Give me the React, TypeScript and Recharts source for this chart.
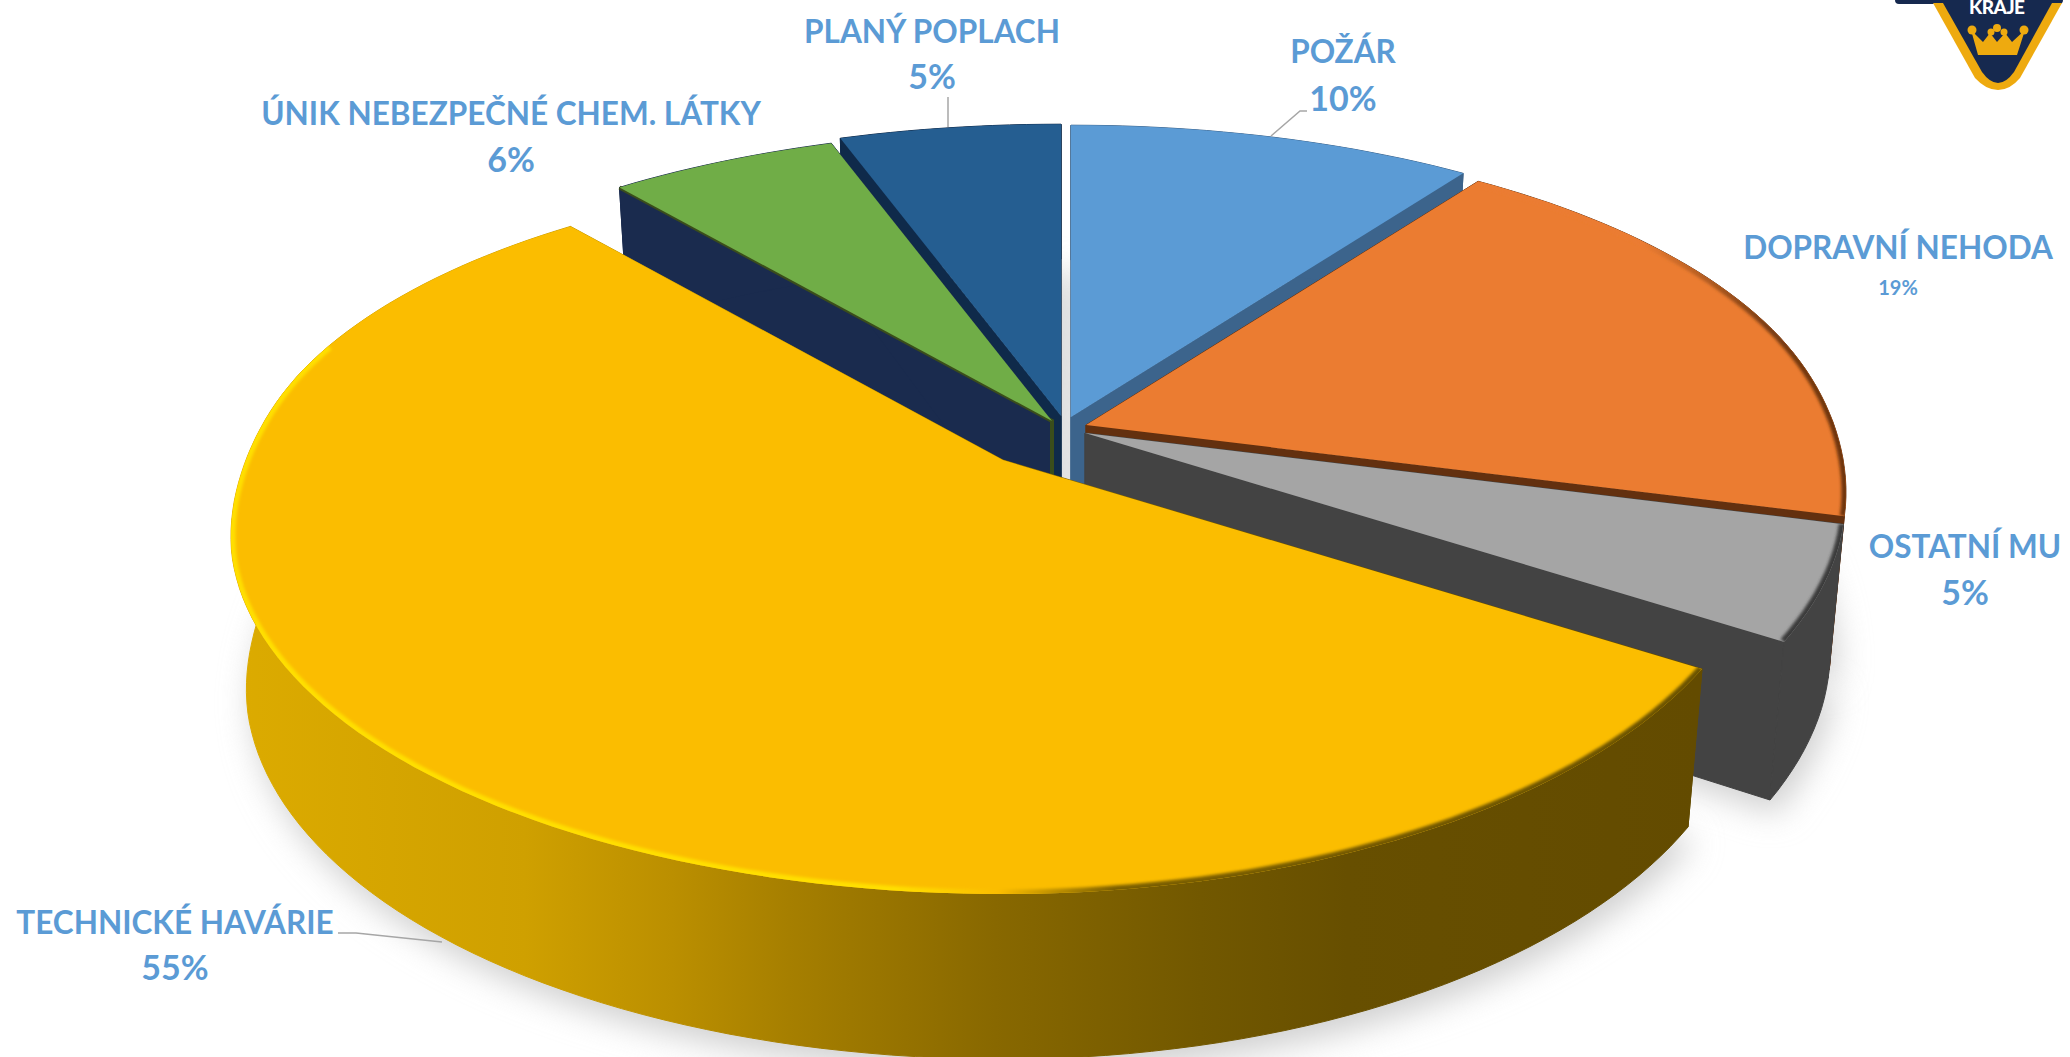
import React from "react";
import { PieChart, Pie } from "recharts";

const categories = [
  "ÚNIK NEBEZPEČNÉ CHEM. LÁTKY",
  "PLANÝ POPLACH",
  "POŽÁR",
  "DOPRAVNÍ NEHODA",
  "OSTATNÍ MU",
  "TECHNICKÉ HAVÁRIE",
];
const shares = [5.6, 5.4, 10, 19, 5, 55];

const data = categories.map((name, i) => ({ name, value: shares[i] }));

const W = 2070;
const H = 1057;

// explode offset of each slice (its tip on screen)
const tips: Record<string, [number, number]> = {
  "ÚNIK NEBEZPEČNÉ CHEM. LÁTKY": [1052, 421],
  "PLANÝ POPLACH": [1061, 416],
  "POŽÁR": [1071, 417],
  "DOPRAVNÍ NEHODA": [1086, 425],
  "OSTATNÍ MU": [1085, 433],
  "TECHNICKÉ HAVÁRIE": [1003, 460],
};

const topColors: Record<string, string> = {
  "ÚNIK NEBEZPEČNÉ CHEM. LÁTKY": "#70ad47",
  "PLANÝ POPLACH": "#255e91",
  "POŽÁR": "#5b9bd5",
  "DOPRAVNÍ NEHODA": "#eb7c31",
  "OSTATNÍ MU": "#a5a5a5",
  "TECHNICKÉ HAVÁRIE": "#fbbd00",
};

const sideColors: Record<string, string> = {
  "ÚNIK NEBEZPEČNÉ CHEM. LÁTKY": "#1a2b4e",
  "PLANÝ POPLACH": "#0f2a4a",
  "POŽÁR": "#3c648c",
  "DOPRAVNÍ NEHODA": "#63300f",
  "OSTATNÍ MU": "#434343",
  "TECHNICKÉ HAVÁRIE": "url(#techWall)",
};

const rimColors: Record<string, string> = {
  "DOPRAVNÍ NEHODA": "url(#orangeRim)",
  "OSTATNÍ MU": "#3a3a3a",
  "TECHNICKÉ HAVÁRIE": "url(#techRim)",
};

const labels: Record<string, { x: number; y: number; y2: number; small?: boolean; line?: string }> = {
  "ÚNIK NEBEZPEČNÉ CHEM. LÁTKY": { x: 511, y: 114, y2: 160 },
  "PLANÝ POPLACH": { x: 932, y: 32, y2: 77, line: "948,127 948,97" },
  "POŽÁR": { x: 1343, y: 52, y2: 99, line: "1271,136 1300,111 1307,111" },
  "DOPRAVNÍ NEHODA": { x: 1898, y: 248, y2: 288, small: true },
  "OSTATNÍ MU": { x: 1965, y: 547, y2: 593 },
  "TECHNICKÉ HAVÁRIE": { x: 175, y: 923, y2: 968, line: "338,933 356,933 442,942" },
};

// tilted disc, front edge closer to the viewer
function top(deg: number, tip: [number, number]) {
  const a = (deg * Math.PI) / 180;
  const u = Math.cos(a);
  const v = Math.sin(a);
  const rx = u >= 0 ? 748 : 757;
  const t = Math.min(1, Math.max(0, (0.3 - v) / 0.6));
  const blend = t * t * (3 - 2 * t);
  const kx = 0.15 + (u >= 0 ? 0.03 : 0.05) * blend;
  return [tip[0] + (rx * u) / (1 + kx * v), tip[1] - (349 * v) / (1 + 0.196 * v)];
}

function bottom(deg: number, tip: [number, number]) {
  const v = Math.sin((deg * Math.PI) / 180);
  const p = top(deg, tip);
  return [tip[0] + (p[0] - tip[0]) * 0.98, p[1] + 150 - 15 * v];
}

function arc(start: number, end: number, fn: (d: number) => number[]) {
  const n = Math.max(2, Math.ceil(Math.abs(end - start) / 1.5));
  const pts: number[][] = [];
  for (let i = 0; i <= n; i++) pts.push(fn(start + ((end - start) * i) / n));
  return pts;
}

const toD = (pts: number[][], close = true) =>
  "M" + pts.map((p) => `${p[0].toFixed(1)},${p[1].toFixed(1)}`).join("L") + (close ? "Z" : "");

function ShadowShape(props: any) {
  const { name, startAngle, endAngle } = props;
  const tip = tips[name];
  const pts = arc(startAngle, endAngle, (d) => {
    const p = bottom(d, tip);
    return [p[0] + 6, p[1] + 14];
  });
  return <path d={toD([[tip[0], tip[1] + 150], ...pts])} fill="#d0d0d0" filter="url(#softShadow)" />;
}

function SideShape(props: any) {
  const { name, startAngle, endAngle } = props;
  const tip = tips[name];
  const fill = sideColors[name];
  const tipLow = [tip[0], tip[1] + 150];
  const wall = [...arc(startAngle, endAngle, (d) => top(d, tip)), ...arc(endAngle, startAngle, (d) => bottom(d, tip))];
  const cut = (d: number) => [tip, top(d, tip), bottom(d, tip), tipLow] as number[][];
  const isGreen = name === categories[0];
  return (
    <g>
      <path d={toD(cut(startAngle))} fill={fill} stroke={fill} strokeWidth={1} />
      <path d={toD(cut(endAngle))} fill={fill} stroke={fill} strokeWidth={1} />
      <path d={toD(wall)} fill={fill} stroke={fill} strokeWidth={1} />
      {isGreen && (
        <path d={toD([top(startAngle, tip), tip, tipLow], false)} fill="none" stroke="#3a4d1b" strokeWidth={4} />
      )}
    </g>
  );
}

// the green slice's side has to lie over the side of its neighbour, and the yellow one over all
const lateSides = [categories[0], categories[5]];
const EarlySide = (props: any) => (lateSides.includes(props.name) ? <g /> : <SideShape {...props} />);
const LateSide = (props: any) => (lateSides.includes(props.name) ? <SideShape {...props} /> : <g />);

function TopShape(props: any) {
  const { name, startAngle, endAngle, index } = props;
  const tip = tips[name];
  const rim = arc(startAngle, endAngle, (d) => top(d, tip));
  const d = toD([tip, ...rim]);
  const rimColor = rimColors[name];
  const rimPts =
    name === categories[5]
      ? rim.filter((_, i, all) => {
          const a = startAngle + ((endAngle - startAngle) * i) / (all.length - 1);
          return Math.sin((a * Math.PI) / 180) < 0.35;
        })
      : rim;
  return (
    <g>
      <clipPath id={`topClip${index}`}>
        <path d={d} />
      </clipPath>
      <path d={d} fill={topColors[name]} />
      {rimColor && (
        <g clipPath={`url(#topClip${index})`}>
          <path d={toD(rimPts, false)} fill="none" stroke={rimColor} strokeWidth={9} filter="url(#softRim)" />
        </g>
      )}
    </g>
  );
}

function SliceLabel(props: any) {
  const { name, percent } = props;
  const l = labels[name];
  const font = { fontFamily: "Lato", fontWeight: 700, fill: "#5b9bd5", textAnchor: "middle" as const };
  return (
    <g>
      {l.line && <polyline points={l.line} fill="none" stroke="#a6a6a6" strokeWidth={1.5} />}
      <text x={l.x} y={l.y} dy="0.35em" fontSize={31.5} {...font}>
        {name}
      </text>
      <text x={l.x} y={l.y2} dy="0.35em" fontSize={l.small ? 20 : 34} {...font}>
        {`${Math.round(percent * 100)}%`}
      </text>
    </g>
  );
}

function Logo() {
  return (
    <g>
      <rect x={1895} y={-6} width={168} height={10} rx={4} fill="#16294f" />
      <path d="M1933,3 L1975,78 Q1986,90 1998,90 Q2010,90 2020,78 L2062,3Z" fill="#eeaa0f" />
      <path d="M1943,3 L1982,72 Q1990,83 1998,83 Q2006,83 2014,72 L2052,3Z" fill="#16294f" />
      <text x={1997} y={14} fontFamily="Lato" fontWeight={900} fontSize={19} fill="#fff" textAnchor="middle" textLength={56}>
        KRAJE
      </text>
      <path d="M1971,30 L1983,42 L1990,33 L1997,42 L2005,33 L2012,42 L2025,30 L2017,55 L1978,55Z" fill="#eeaa0f" />
      <circle cx={1972} cy={30} r={4.5} fill="#eeaa0f" />
      <circle cx={1991} cy={32} r={3.5} fill="#eeaa0f" />
      <circle cx={1997} cy={28} r={4} fill="#eeaa0f" />
      <circle cx={2004} cy={32} r={3.5} fill="#eeaa0f" />
      <circle cx={2024} cy={30} r={4.5} fill="#eeaa0f" />
    </g>
  );
}

export default function App() {
  const common = {
    data,
    dataKey: "value",
    nameKey: "name",
    cx: 1070,
    cy: 420,
    outerRadius: 349,
    startAngle: 129.6,
    endAngle: -230.4,
    stroke: "none",
    isAnimationActive: false,
    labelLine: false,
  };
  return (
    <div style={{ position: "fixed", left: 0, top: 0, width: W, height: H, background: "#fff" }}>
      <PieChart width={W} height={H} margin={{ top: 0, right: 0, bottom: 0, left: 0 }}>
        <defs>
          <linearGradient id="techWall" gradientUnits="userSpaceOnUse" x1={231} y1={0} x2={1700} y2={0}>
            <stop offset="0" stopColor="#dcab00" />
            <stop offset="0.2" stopColor="#cfa000" />
            <stop offset="0.3" stopColor="#bb8f00" />
            <stop offset="0.38" stopColor="#a67f00" />
            <stop offset="0.52" stopColor="#886800" />
            <stop offset="0.66" stopColor="#725800" />
            <stop offset="0.76" stopColor="#674f00" />
            <stop offset="1" stopColor="#634b00" />
          </linearGradient>
          <linearGradient id="techRim" gradientUnits="userSpaceOnUse" x1={231} y1={0} x2={1706} y2={0}>
            <stop offset="0" stopColor="#ffdf00" />
            <stop offset="0.45" stopColor="#ffdf00" />
            <stop offset="0.52" stopColor="#fbbd00" />
            <stop offset="0.6" stopColor="#7a5e00" />
            <stop offset="1" stopColor="#6b5200" />
          </linearGradient>
          <linearGradient id="orangeRim" gradientUnits="userSpaceOnUse" x1={1480} y1={0} x2={1840} y2={0}>
            <stop offset="0" stopColor="#eb7c31" />
            <stop offset="0.45" stopColor="#eb7c31" />
            <stop offset="0.8" stopColor="#7a3d12" />
            <stop offset="1" stopColor="#6e3510" />
          </linearGradient>
          <filter id="softShadow" filterUnits="userSpaceOnUse" x={0} y={0} width={W} height={H + 200}>
            <feGaussianBlur stdDeviation={16} />
          </filter>
          <filter id="softRim" filterUnits="userSpaceOnUse" x={0} y={0} width={W} height={H}>
            <feGaussianBlur stdDeviation={1.6} />
          </filter>
        </defs>
        <Pie {...common} shape={ShadowShape} label={false} />
        <Pie {...common} shape={EarlySide} label={false} />
        <Pie {...common} shape={LateSide} label={false} />
        <Pie {...common} shape={TopShape} label={SliceLabel} />
        <Logo />
      </PieChart>
    </div>
  );
}
